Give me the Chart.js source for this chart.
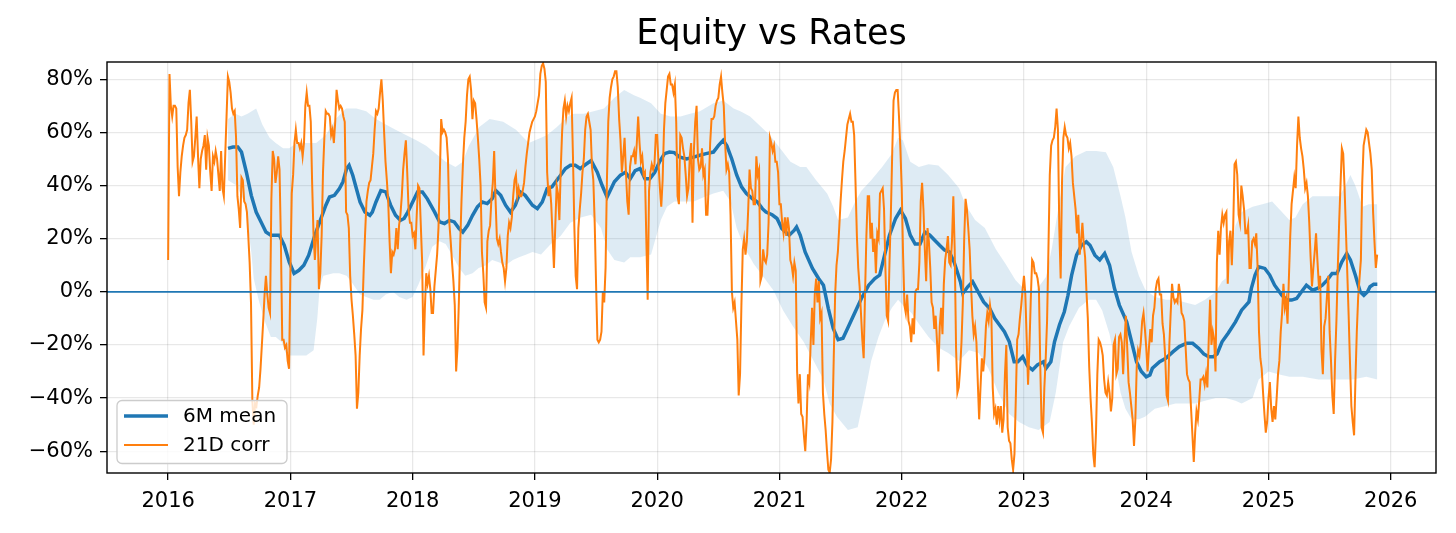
<!DOCTYPE html>
<html>
<head>
<meta charset="utf-8">
<script src="https://cdn.jsdelivr.net/npm/chart.js@4.4.1/dist/chart.umd.min.js"></script>
<style>
  html, body { margin: 0; padding: 0; background: #ffffff; }
  #wrap { width: 1456px; height: 533px; }
</style>
</head>
<body>
<div id="wrap"><canvas id="c" width="1456" height="533"></canvas></div>
<script>
// ---------------- DATA ----------------
const chartTitle = "Equity vs Rates";
const xTickYears = [2016, 2017, 2018, 2019, 2020, 2021, 2022, 2023, 2024, 2025, 2026];
const yTickPct = [-60, -40, -20, 0, 20, 40, 60, 80];
const legendLabels = ["6M mean", "21D corr"];

// 21D correlation, percent; each yearly array is sampled every 1/90 of a year from Jan 1
const corr2016 = [12,82,70,66,70,70,69,47,36,45, 51,55,58,59,61,71,76,64,49,51, 58,66,51,39,50,53,55,59,46,58,
  55,45,38,51,49,53,50,44,38,53, 39,36,51,66,81,79,75,69,67,68, 58,36,31,24,43,42,34,33,30,21,
  11,-4,-41,-50,-42,-43,-39,-36,-29,-20, -11,-1,6,-1,-6,-8,35,53,50,41, 45,51,46,19,-18,-18,-21,-20,-26,-29];
const corr2017 = [7,37,44,56,61,56,56,54,56,51, 56,70,75,70,70,64,41,22,12,21, 27,1,7,21,45,58,68,67,67,66,
  59,61,56,64,76,72,69,70,69,66, 64,30,29,24,6,-3,-9,-16,-24,-44, -38,-24,-14,-7,9,22,34,38,41,42,
  47,52,61,68,67,69,75,80,72,60, 49,42,34,19,7,15,14,16,24,16, 25,29,36,46,52,57,45,31,26,26];
const corr2018 = [21,22,16,29,40,39,25,11,-24,-6, 7,3,6,1,-8,-8,2,8,14,24, 44,65,60,61,60,58,50,26,19,11,
  4,-5,-30,-21,-4,18,35,48,58,64, 74,80,81,76,65,72,71,65,58,50, 40,15,7,-4,-6,19,23,25,35,41,
  53,35,20,18,20,15,11,9,4,9, 21,26,24,28,36,42,44,36,39,36, 36,38,41,47,52,56,60,62,64,65];
const corr2019 = [66,68,71,74,82,85,86,84,79,45, 36,40,33,21,9,25,40,37,27,46, 60,69,72,66,70,68,71,73,51,25,
  6,1,24,31,37,45,50,61,66,67, 64,61,47,42,26,3,-18,-19,-18,-15, 0,-4,9,42,64,73,77,80,81,83,
  83,77,65,57,45,51,58,45,34,29, 47,51,51,53,48,56,66,56,49,51, 44,45,20,-3,38,45,48,46,48,59];
const corr2020 = [59,48,39,32,42,61,71,76,81,82, 78,78,75,78,64,36,33,59,58,54, 51,44,36,39,51,56,26,53,64,70,
  50,46,47,54,44,46,29,29,41,56, 65,65,66,70,72,73,78,81,75,70, 56,46,48,45,29,0,-6,-4,-11,-18,
  -39,-31,-5,16,20,14,19,31,46,39, 38,33,33,51,44,46,4,6,16,12, 11,14,26,58,56,53,55,49,49,45];
const corr2021 = [33,33,26,22,28,21,28,24,12,10, 6,11,8,-30,-42,-31,-46,-47,-54,-60, -49,-31,-34,-19,-6,-20,-1,5,-4,4,
  -10,-8,-38,-46,-52,-60,-67,-68,-63,-49, -24,-1,10,15,24,34,42,49,53,58, 63,65,67,64,64,59,41,21,9,2,
  -8,-18,-25,-1,21,36,36,20,26,15, 20,7,22,20,37,38,39,31,9,-9, -11,11,29,52,72,75,76,76,66,54];
const corr2022 = [39,14,-5,-8,-1,-11,-13,-19,-10,-16, 0,1,1,11,34,41,31,16,4,24, 19,9,-4,-6,-14,-9,-19,-30,-13,-6,
  -16,3,12,16,21,11,10,19,36,16, -21,-38,-36,-29,-19,-4,20,35,31,24, 16,3,-9,-16,-13,-19,-34,-48,-36,-25,
  -30,-24,-13,-8,-11,-5,-9,-36,-46,-44, -50,-43,-48,-43,-53,-48,-31,-20,-51,-56, -57,-63,-67,-61,-40,-18,-16,-10,-5,1];
const corr2023 = [6,-1,-18,-35,-21,-3,12,11,7,7, 5,1,-28,-51,-53,-36,-25,-11,16,44, 55,57,58,62,69,61,24,5,41,58,
  62,59,58,54,56,51,41,36,31,22, 29,14,19,26,18,13,0,-10,-28,-40, -49,-61,-66,-53,-31,-18,-19,-21,-24,-33,
  -38,-39,-34,-38,-45,-40,-20,-18,-31,-29, -17,-16,-19,-31,-19,-9,-21,-34,-38,-43, -48,-58,-48,-28,-22,-24,-19,-11,-8,-14];
const corr2024 = [-21,-30,-21,-14,-19,-9,-6,1,4,5, -1,-1,-12,-16,-25,-39,-41,-20,-8,3, -2,-4,-3,-4,3,-1,-8,-9,-11,-21,
  -31,-33,-34,-44,-54,-64,-53,-45,-48,-41, -33,-33,-32,-35,-31,-36,-18,-3,-20,-15, -18,-30,11,23,14,24,29,26,29,30,
  3,19,23,10,24,48,49,44,29,26, 40,36,31,22,22,25,9,9,19,20, 18,22,9,-15,-25,-29,-38,-46,-53,-49];
const corr2025 = [-40,-34,-44,-49,-43,-48,-40,-31,-26,-15, -8,3,-6,-3,-12,5,21,33,38,43, 39,55,66,58,54,51,46,39,41,36,
  26,13,2,9,15,22,12,3,6,-22, -31,-13,-10,-2,6,-15,-26,-39,-46,-26, -11,9,26,40,54,52,39,23,7,-9,
  -27,-43,-49,-54,-33,-15,-2,5,12,41, 55,58,61,60,56,52,46,30,19,9, 14];
const corrYears = [2016, 2017, 2018, 2019, 2020, 2021, 2022, 2023, 2024, 2025];
const corrArrays = [corr2016, corr2017, corr2018, corr2019, corr2020, corr2021, corr2022, corr2023, corr2024, corr2025];
const samplesPerYear = 90;

// 6M mean, [year, percent]
const meanSeries = [[2016.49,54],[2016.53,54.5],[2016.57,54.5],[2016.60,52.6],[2016.64,45],[2016.68,36.3],[2016.72,30],[2016.76,26.3],[2016.80,22.5],[2016.84,21.3],[2016.91,21.3],[2016.95,17.5],[2016.99,11.3],
 [2017.03,6.9],[2017.07,8.1],[2017.11,10],[2017.15,13.8],[2017.20,21.3],[2017.24,26.3],[2017.29,32.6],[2017.32,35.7],[2017.36,36.3],[2017.40,38.8],[2017.43,41.4],[2017.46,46.4],[2017.48,47.6],[2017.51,43.9],[2017.54,38.8],[2017.57,33.8],[2017.61,30],[2017.65,28.8],[2017.67,30],[2017.70,33.8],[2017.74,38.1],[2017.78,37.6],[2017.82,32.6],[2017.86,28.8],[2017.90,26.9],[2017.93,27.6],[2017.96,30],
 [2018.00,33.8],[2018.04,37.6],[2018.08,37.6],[2018.12,35],[2018.18,30],[2018.22,26.3],[2018.26,25.7],[2018.30,26.9],[2018.34,26.3],[2018.38,23.8],[2018.41,22.5],[2018.45,25],[2018.49,28.8],[2018.53,32],[2018.57,33.8],[2018.61,33.2],[2018.65,35],[2018.68,38.1],[2018.72,36.3],[2018.76,32.6],[2018.80,30],[2018.84,32.6],[2018.88,37.6],[2018.92,36.3],[2018.98,32.6],
 [2019.02,31.3],[2019.06,33.8],[2019.10,38.8],[2019.14,39.5],[2019.17,41.4],[2019.21,43.9],[2019.25,46.4],[2019.29,47.6],[2019.33,47.6],[2019.37,46.4],[2019.42,48.1],[2019.46,49.4],[2019.51,45],[2019.55,40],[2019.59,35.7],[2019.61,37.6],[2019.65,41.4],[2019.70,43.9],[2019.74,45],[2019.78,42.6],[2019.82,45.6],[2019.86,46.4],[2019.90,42.6],[2019.94,42.6],[2019.98,45],
 [2020.02,49],[2020.06,52],[2020.10,52.6],[2020.14,52.4],[2020.18,50.8],[2020.24,50],[2020.29,50.6],[2020.35,51.4],[2020.40,52],[2020.46,52.6],[2020.50,55],[2020.54,57],[2020.57,55],[2020.61,50],[2020.65,44],[2020.69,39.5],[2020.73,37],[2020.78,35],[2020.82,33.8],[2020.86,31.3],[2020.89,30],[2020.94,29],[2020.98,27.6],
 [2021.02,23.8],[2021.08,21.3],[2021.12,23.1],[2021.14,24.4],[2021.17,21.3],[2021.21,15],[2021.27,8.8],[2021.32,5],[2021.36,2.5],[2021.40,-6.3],[2021.44,-13.8],[2021.48,-18],[2021.52,-17.5],[2021.57,-12.5],[2021.62,-7.5],[2021.67,-2.5],[2021.73,2.5],[2021.78,5],[2021.82,6.3],[2021.86,13.8],[2021.90,21.3],[2021.95,27.6],[2021.99,30.7],
 [2022.03,27.6],[2022.07,21.3],[2022.11,18],[2022.15,18],[2022.19,22.5],[2022.23,21.3],[2022.27,19.4],[2022.31,17.5],[2022.35,15.7],[2022.39,15],[2022.43,11],[2022.48,3.8],[2022.50,-0.6],[2022.54,1.9],[2022.58,3.8],[2022.625,0],[2022.67,-3.8],[2022.72,-6.3],[2022.76,-10],[2022.80,-12.5],[2022.84,-15],[2022.88,-18.8],[2022.92,-26.3],[2022.95,-26.3],[2022.99,-24.4],
 [2023.03,-28],[2023.07,-29.4],[2023.11,-27.5],[2023.16,-26.3],[2023.18,-28.8],[2023.22,-26.3],[2023.25,-18.8],[2023.29,-12.5],[2023.33,-7.5],[2023.36,-1.3],[2023.39,6.3],[2023.43,13.8],[2023.47,17.5],[2023.51,18.8],[2023.54,17.5],[2023.58,13.8],[2023.62,12],[2023.66,14.4],[2023.70,10],[2023.74,1.3],[2023.78,-5],[2023.84,-11.3],[2023.88,-18.8],[2023.92,-26.3],[2023.96,-30],
 [2024.00,-32],[2024.03,-31.3],[2024.05,-28.8],[2024.11,-26.3],[2024.16,-25],[2024.22,-22.5],[2024.27,-20.6],[2024.33,-19.4],[2024.38,-19.4],[2024.43,-21.3],[2024.47,-23.4],[2024.51,-24.4],[2024.55,-24.4],[2024.58,-23.4],[2024.62,-18.8],[2024.67,-15.6],[2024.73,-11.3],[2024.78,-6.9],[2024.84,-3.8],[2024.86,1.3],[2024.89,6.3],[2024.92,9.4],[2024.97,8.8],
 [2025.01,6.3],[2025.05,2.5],[2025.11,-1.3],[2025.15,-3.1],[2025.19,-3.1],[2025.23,-2.5],[2025.27,0],[2025.31,2.5],[2025.36,0.6],[2025.40,1.3],[2025.44,2.5],[2025.48,4.4],[2025.52,6.9],[2025.56,6.9],[2025.60,11.3],[2025.64,14.4],[2025.67,12],[2025.71,6.3],[2025.75,0],[2025.78,-1.3],[2025.81,0],[2025.83,1.9],[2025.86,2.8],[2025.89,2.8]];

// Shaded band, upper and lower edge, [year, percent]
const bandUpper = [[2016.49,65],[2016.55,67],[2016.60,66],[2016.65,67],[2016.72,69],[2016.77,63],[2016.83,58],[2016.88,56],[2016.94,54],[2016.99,54],[2017.05,56],[2017.13,56],[2017.21,56],[2017.29,59],[2017.37,65],[2017.455,69],[2017.54,69],[2017.62,68],[2017.70,65],[2017.78,63],[2017.86,61],[2017.945,59],
 [2018.03,57],[2018.11,55],[2018.19,52],[2018.27,49],[2018.35,47],[2018.41,49],[2018.46,55],[2018.545,62],[2018.63,65],[2018.74,64],[2018.845,61],[2018.95,56],[2019.05,58],[2019.10,59],[2019.18,62],[2019.27,66],[2019.32,67],[2019.40,67],[2019.48,68],[2019.565,69],[2019.65,73],[2019.73,76],[2019.81,74],[2019.86,73],[2019.95,71],
 [2020.03,67],[2020.11,66],[2020.19,66],[2020.27,67],[2020.35,68],[2020.46,71],[2020.54,72],[2020.625,69],[2020.68,68],[2020.76,66],[2020.84,62.5],[2020.92,59],[2021.005,54],[2021.09,49],[2021.17,47],[2021.22,47],[2021.30,42],[2021.39,37],[2021.44,32],[2021.48,27],[2021.56,28],[2021.62,34],[2021.67,38],[2021.75,42],[2021.84,47],[2021.92,52],[2021.97,58],
 [2022.01,57],[2022.07,49],[2022.14,47],[2022.22,48],[2022.30,47.5],[2022.38,44],[2022.47,39],[2022.52,33],[2022.60,27],[2022.68,24],[2022.77,16],[2022.85,10.5],[2022.93,4.4],[2023.01,0.6],[2023.10,0.6],[2023.18,5.6],[2023.23,17],[2023.29,34],[2023.34,47],[2023.42,51],[2023.51,53],[2023.59,53],[2023.67,52.5],[2023.73,47],[2023.79,36],[2023.83,28],[2023.88,15],[2023.94,6],[2023.99,1],
 [2024.07,-2],[2024.16,-3],[2024.24,-3],[2024.32,-4],[2024.40,-5],[2024.48,-3],[2024.57,0],[2024.62,4],[2024.65,5],[2024.69,15],[2024.73,25],[2024.78,30],[2024.87,32],[2024.95,33],[2025.03,34],[2025.11,30],[2025.17,27],[2025.22,28],[2025.28,33],[2025.36,36],[2025.47,36],[2025.58,36],[2025.63,40],[2025.67,44],[2025.71,40],[2025.77,32],[2025.82,33],[2025.89,33]];
const bandLower = [[2016.49,42],[2016.56,40],[2016.63,33],[2016.68,15],[2016.70,5],[2016.74,-3],[2016.79,-11],[2016.84,-17],[2016.88,-17],[2016.93,-19],[2016.97,-24],[2017.05,-24],[2017.13,-24],[2017.19,-22],[2017.22,-10],[2017.24,2],[2017.27,6],[2017.35,7],[2017.40,7],[2017.46,6],[2017.51,3],[2017.57,-1],[2017.62,-2],[2017.68,-3],[2017.73,-3],[2017.78,-1],[2017.84,0],[2017.89,-2],[2017.95,-3],
 [2018.00,-2],[2018.05,3],[2018.11,10],[2018.16,17],[2018.22,19],[2018.27,18],[2018.32,14],[2018.38,9],[2018.43,6],[2018.49,7],[2018.54,9],[2018.60,10],[2018.65,12],[2018.71,11],[2018.76,10],[2018.82,12],[2018.87,13],[2018.93,14],[2018.98,15],
 [2019.05,14],[2019.13,18],[2019.21,21],[2019.29,26],[2019.375,28],[2019.46,29],[2019.54,24],[2019.59,16],[2019.65,12],[2019.73,11],[2019.78,13],[2019.86,13],[2019.95,14],[2020.03,27],[2020.08,32],[2020.14,34],[2020.22,34],[2020.30,34],[2020.38,35.6],[2020.46,37],[2020.54,38],[2020.60,34],[2020.65,24],[2020.71,17],[2020.79,10.5],[2020.87,5.6],[2020.95,0.6],
 [2021.03,-7],[2021.11,-13],[2021.20,-19],[2021.28,-26],[2021.36,-33],[2021.41,-42],[2021.47,-47],[2021.56,-52],[2021.64,-51],[2021.70,-38],[2021.75,-26],[2021.81,-17],[2021.86,-11],[2021.92,-6],[2021.97,-3],[2022.03,-6],[2022.08,-8],[2022.14,-12],[2022.22,-17],[2022.30,-21],[2022.38,-23],[2022.47,-26],[2022.55,-22],[2022.63,-23],[2022.71,-29],[2022.79,-38],[2022.88,-46],[2022.96,-49],
 [2023.04,-51],[2023.12,-52],[2023.21,-49],[2023.26,-38],[2023.32,-19],[2023.37,-13],[2023.45,-6],[2023.53,-3],[2023.59,-3],[2023.64,-7],[2023.70,-16],[2023.75,-28],[2023.79,-38],[2023.83,-44],[2023.88,-48],[2023.94,-48],[2023.99,-47],
 [2024.07,-44],[2024.16,-43],[2024.24,-42],[2024.32,-42],[2024.40,-42],[2024.48,-41],[2024.57,-40],[2024.65,-40],[2024.73,-41],[2024.78,-42],[2024.87,-40],[2024.92,-33],[2025.00,-30],[2025.08,-31],[2025.17,-32],[2025.28,-32],[2025.41,-33],[2025.55,-33],[2025.69,-33],[2025.80,-32],[2025.89,-33]];

const zeroLevel = 0;
const xMin = 2015.5, xMax = 2026.37;
const yMin = -68.2, yMax = 86.5;

// ---------------- BUILD ----------------
const corrPoints = [];
corrYears.forEach((yr, k) => {
  corrArrays[k].forEach((v, i) => corrPoints.push({ x: yr + i / samplesPerYear, y: v }));
});
const toPts = arr => arr.map(p => ({ x: p[0], y: p[1] }));

const BLUE = '#1f77b4', ORANGE = '#ff7f0e';
const FONT = '"DejaVu Sans", "Liberation Sans", sans-serif';
const PLOT = { left: 107, right: 1436, top: 62, bottom: 473 };

const fmtPct = v => (v < 0 ? '\u2212' + Math.abs(v) : String(v)) + '%';

const framePlugin = {
  id: 'frame',
  afterDatasetsDraw(chart) {
    const a = chart.chartArea, ctx = chart.ctx;
    ctx.save();
    ctx.strokeStyle = '#000';
    ctx.lineWidth = 1.4;
    ctx.strokeRect(a.left, a.top, a.right - a.left, a.bottom - a.top);
    ctx.restore();
  }
};

const legendPlugin = {
  id: 'mplLegend',
  afterDraw(chart) {
    const ctx = chart.ctx;
    const items = legendLabels.map(l => chart.data.datasets.find(d => d.label === l));
    const bx = 117, by = 400.5, bw = 170, bh = 63, r = 5;
    ctx.save();
    ctx.beginPath();
    ctx.moveTo(bx + r, by);
    ctx.arcTo(bx + bw, by, bx + bw, by + bh, r);
    ctx.arcTo(bx + bw, by + bh, bx, by + bh, r);
    ctx.arcTo(bx, by + bh, bx, by, r);
    ctx.arcTo(bx, by, bx + bw, by, r);
    ctx.closePath();
    ctx.fillStyle = 'rgba(255,255,255,0.8)';
    ctx.fill();
    ctx.strokeStyle = '#cccccc';
    ctx.lineWidth = 1.3;
    ctx.stroke();
    const rows = [416, 445];
    items.forEach((d, i) => {
      const y = rows[i];
      ctx.beginPath();
      ctx.moveTo(124, y);
      ctx.lineTo(168, y);
      ctx.strokeStyle = d.borderColor;
      ctx.lineWidth = d.borderWidth;
      ctx.stroke();
      ctx.fillStyle = '#000';
      ctx.font = '20px ' + FONT;
      ctx.textBaseline = 'middle';
      ctx.textAlign = 'left';
      ctx.fillText(d.label, 183, y + 1);
    });
    ctx.restore();
  }
};

new Chart(document.getElementById('c'), {
  type: 'line',
  data: {
    datasets: [
      { label: 'zero', data: [{ x: xMin, y: zeroLevel }, { x: xMax, y: zeroLevel }], borderColor: BLUE, borderWidth: 1.8, pointRadius: 0, order: 0, fill: false },
      { label: '21D corr', data: corrPoints, borderColor: ORANGE, borderWidth: 2, pointRadius: 0, order: 1, fill: false },
      { label: '6M mean', data: toPts(meanSeries), borderColor: BLUE, borderWidth: 3.5, pointRadius: 0, order: 2, fill: false },
      { label: 'band upper', data: toPts(bandUpper), borderWidth: 0, borderColor: 'rgba(0,0,0,0)', backgroundColor: 'rgba(31,119,180,0.15)', pointRadius: 0, order: 3, fill: '+1' },
      { label: 'band lower', data: toPts(bandLower), borderWidth: 0, borderColor: 'rgba(0,0,0,0)', pointRadius: 0, order: 4, fill: false }
    ]
  },
  options: {
    responsive: false,
    animation: false,
    devicePixelRatio: 1,
    layout: { padding: { left: 0, right: 1456 - PLOT.right, top: 0, bottom: 0 } },
    plugins: {
      legend: { display: false },
      tooltip: { enabled: false },
      title: {
        display: true, text: chartTitle, color: '#000', fullSize: false,
        font: { family: FONT, size: 35, weight: 'normal', lineHeight: 1.2 },
        padding: { top: 14, bottom: 6 }
      }
    },
    scales: {
      x: {
        type: 'linear', min: xMin, max: xMax,
        afterBuildTicks: s => { s.ticks = xTickYears.map(v => ({ value: v })); },
        afterFit: s => { s.height = 533 - PLOT.bottom; },
        ticks: { callback: v => String(v), color: '#000', font: { family: FONT, size: 21 }, padding: 9, maxRotation: 0, autoSkip: false },
        grid: { color: 'rgba(0,0,0,0.09)', lineWidth: 1.3, tickColor: '#000', tickLength: 7, tickWidth: 1.3 },
        border: { display: false }
      },
      y: {
        type: 'linear', min: yMin, max: yMax,
        afterBuildTicks: s => { s.ticks = yTickPct.map(v => ({ value: v })); },
        afterFit: s => { s.width = PLOT.left; },
        ticks: { callback: v => fmtPct(v), color: '#000', font: { family: FONT, size: 21 }, padding: 7, autoSkip: false },
        grid: { color: 'rgba(0,0,0,0.09)', lineWidth: 1.3, tickColor: '#000', tickLength: 7, tickWidth: 1.3 },
        border: { display: false }
      }
    }
  },
  plugins: [framePlugin, legendPlugin]
});
</script>
</body>
</html>
